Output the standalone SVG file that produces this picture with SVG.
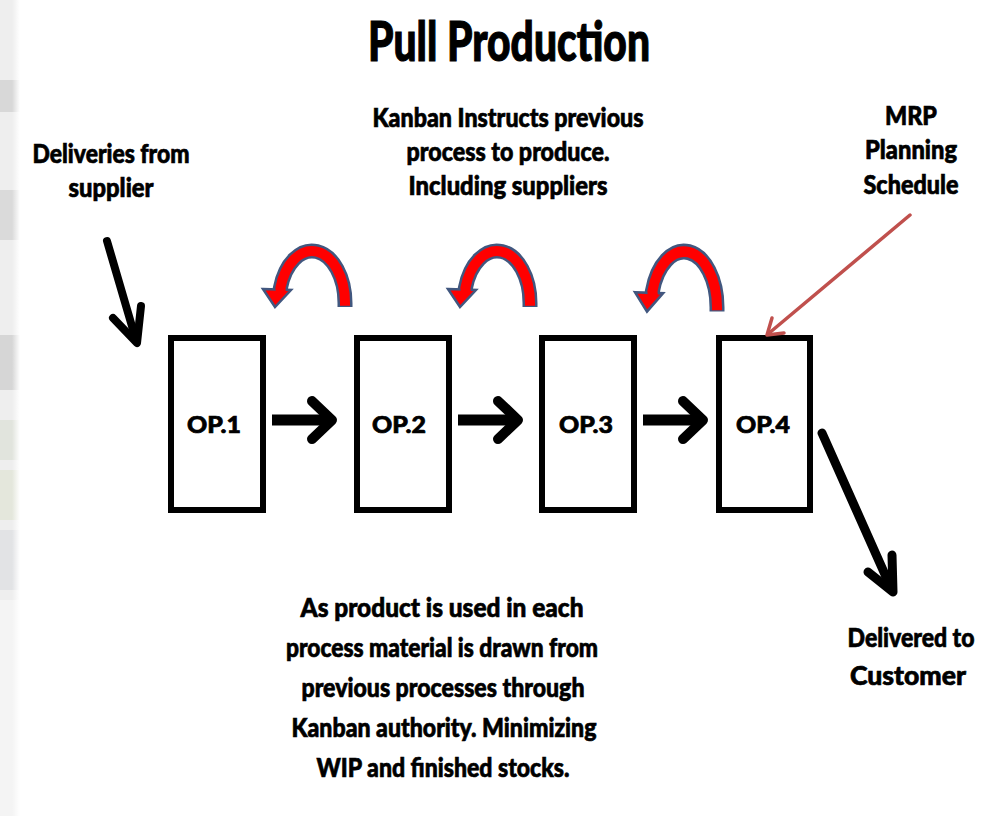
<svg xmlns="http://www.w3.org/2000/svg" width="1002" height="816" viewBox="0 0 1002 816">
<defs>
<style>
.t{font-family:Lato,"Open Sans","Liberation Sans",sans-serif;font-weight:900;fill:#000;stroke:#000;stroke-width:0.7;text-anchor:middle}
.title{stroke-width:1.2}
.box{fill:#fff;stroke:#000;stroke-width:6}
.blk{fill:none;stroke:#000;stroke-linecap:round;stroke-linejoin:round}
.sh{fill:none;stroke:#000;stroke-width:11}
.mrp{fill:none;stroke:#c0504d;stroke-width:3.5;stroke-linecap:round;stroke-linejoin:round}
</style>
<linearGradient id="fade" x1="0" y1="0" x2="1" y2="0">
<stop offset="0" stop-color="#fff" stop-opacity="0"/>
<stop offset="1" stop-color="#fff" stop-opacity="1"/>
</linearGradient>
<g id="curl">
<path d="M345,307 L345,303 A33,52 0 0 0 280.4,288 L281,292" fill="none" stroke="#41577f" stroke-width="15"/>
<polygon points="263,289 291,290 275,307" fill="#ff0000" stroke="#41577f" stroke-width="2.5" stroke-linejoin="miter"/>
<path d="M345,305.8 L345,303 A33,52 0 0 0 280.4,288 L281,293" fill="none" stroke="#ff0000" stroke-width="10"/>
</g>
</defs>
<rect width="1002" height="816" fill="#fff"/>
<g id="bgstrip">
<rect x="0" y="0" width="20" height="816" fill="#eeeeee"/>
<rect x="0" y="80" width="20" height="32" fill="#d8d8d8"/>
<rect x="0" y="190" width="20" height="50" fill="#dadada"/>
<rect x="0" y="335" width="20" height="55" fill="#d6d6d6"/>
<rect x="0" y="420" width="20" height="40" fill="#e1e4dd"/>
<rect x="0" y="470" width="20" height="50" fill="#e4e7dc"/>
<rect x="0" y="530" width="20" height="60" fill="#e2e3e5"/>
<rect x="0" y="600" width="20" height="216" fill="#f4f4f4"/>
<rect x="12" y="0" width="8" height="816" fill="url(#fade)"/>
</g>
<text class="t title" x="509" y="61" font-size="56" textLength="282" lengthAdjust="spacingAndGlyphs">Pull Production</text>
<g id="note-kanban">
<text class="t" x="508" y="127" font-size="27" textLength="271" lengthAdjust="spacingAndGlyphs">Kanban Instructs previous</text>
<text class="t" x="508" y="161" font-size="27" textLength="203" lengthAdjust="spacingAndGlyphs">process to produce.</text>
<text class="t" x="508" y="195" font-size="27" textLength="199" lengthAdjust="spacingAndGlyphs">Including suppliers</text>
</g>
<g id="note-deliveries">
<text class="t" x="111" y="163" font-size="27" textLength="157" lengthAdjust="spacingAndGlyphs">Deliveries from</text>
<text class="t" x="111" y="197" font-size="27" textLength="85" lengthAdjust="spacingAndGlyphs">supplier</text>
</g>
<g id="note-mrp">
<text class="t" x="911" y="125" font-size="27" textLength="52" lengthAdjust="spacingAndGlyphs">MRP</text>
<text class="t" x="911" y="159" font-size="27" textLength="92" lengthAdjust="spacingAndGlyphs">Planning</text>
<text class="t" x="911" y="194" font-size="27" textLength="95" lengthAdjust="spacingAndGlyphs">Schedule</text>
</g>
<g id="note-customer">
<text class="t" x="911" y="647" font-size="27" textLength="127" lengthAdjust="spacingAndGlyphs">Delivered to</text>
<text class="t" x="908" y="685" font-size="27" textLength="116" lengthAdjust="spacingAndGlyphs">Customer</text>
</g>
<g id="note-bottom">
<text class="t" x="442" y="617" font-size="27" textLength="283" lengthAdjust="spacingAndGlyphs">As product is used in each</text>
<text class="t" x="442" y="657" font-size="27" textLength="312" lengthAdjust="spacingAndGlyphs">process material is drawn from</text>
<text class="t" x="443" y="697" font-size="27" textLength="283" lengthAdjust="spacingAndGlyphs">previous processes through</text>
<text class="t" x="444" y="737" font-size="27" textLength="305" lengthAdjust="spacingAndGlyphs">Kanban authority. Minimizing</text>
<text class="t" x="443" y="777" font-size="27" textLength="253" lengthAdjust="spacingAndGlyphs">WIP and finished stocks.</text>
</g>
<g id="op1"><rect class="box" x="171" y="338" width="92" height="172"/><text class="t" x="214" y="433" font-size="23" textLength="54" lengthAdjust="spacingAndGlyphs">OP.1</text></g>
<g id="op2"><rect class="box" x="357" y="338" width="92" height="172"/><text class="t" x="399" y="433" font-size="23" textLength="54" lengthAdjust="spacingAndGlyphs">OP.2</text></g>
<g id="op3"><rect class="box" x="542" y="338" width="92" height="172"/><text class="t" x="586" y="433" font-size="23" textLength="54" lengthAdjust="spacingAndGlyphs">OP.3</text></g>
<g id="op4"><rect class="box" x="719" y="338" width="91" height="172"/><text class="t" x="763" y="433" font-size="23" textLength="54" lengthAdjust="spacingAndGlyphs">OP.4</text></g>
<g id="connectors">
<path class="sh" d="M272,420 H330"/>
<path class="blk" stroke-width="10" d="M312,401 L332,420 L312,439"/>
<path class="sh" d="M458,420 H516"/>
<path class="blk" stroke-width="10" d="M498,401 L518,420 L498,439"/>
<path class="sh" d="M643,420 H701"/>
<path class="blk" stroke-width="10" d="M683,401 L703,420 L683,439"/>
<path class="blk" stroke-width="8" d="M107,241 L136,340"/>
<path class="blk" stroke-width="8" d="M113,318 L137,343 L141,306"/>
<path class="blk" stroke-width="9" d="M822,433 L891,588"/>
<path class="blk" stroke-width="9" d="M868,572 L893,592 L892,555"/>
<path class="mrp" d="M910,215 L768,334"/>
<path class="mrp" d="M772,318 L767,335 L784,333"/>
<use href="#curl"/>
<use href="#curl" transform="translate(185,0)"/>
<use href="#curl" transform="translate(372,-17) scale(1,1.07)"/>
</g>
</svg>
